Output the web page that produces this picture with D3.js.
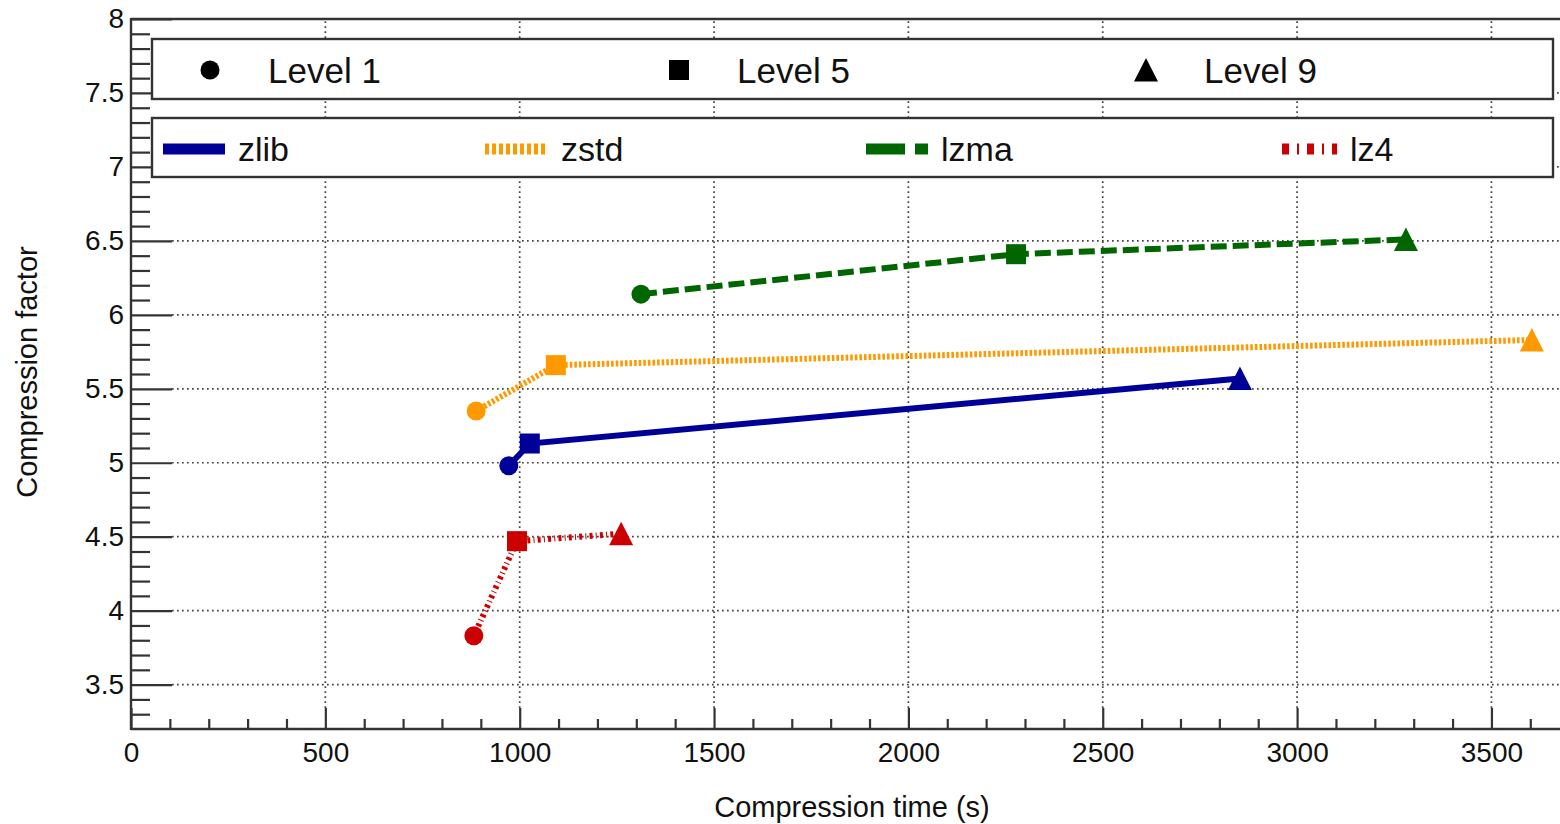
<!DOCTYPE html>
<html>
<head>
<meta charset="utf-8">
<script src="https://cdn.jsdelivr.net/npm/d3@7"></script>
<style>
  body { margin: 0; background: #fff; }
  svg { display: block; font-family: "Liberation Sans", Arial, sans-serif; }
</style>
</head>
<body>
<svg width="1560" height="824"></svg>
<script>
// data
var levels = ["Level 1", "Level 5", "Level 9"];
var algos = ["zlib", "zstd", "lzma", "lz4"];

var zlibTime = [972, 1026, 2853];
var zlibFactor = [4.98, 5.13, 5.57];
var zstdTime = [888, 1093, 3604];
var zstdFactor = [5.35, 5.66, 5.83];
var lzmaTime = [1312, 2277, 3280];
var lzmaFactor = [6.14, 6.41, 6.51];
var lz4Time = [882, 993, 1261];
var lz4Factor = [3.83, 4.47, 4.52];

var xTicks = [0, 500, 1000, 1500, 2000, 2500, 3000, 3500];
var yTicks = [3.5, 4, 4.5, 5, 5.5, 6, 6.5, 7, 7.5, 8];

// styles
var colors = { zlib: "#000099", zstd: "#ff9900", lzma: "#006600", lz4: "#cc0000" };
var dashPlot = { zlib: null, zstd: "2.6,2", lzma: "16,6", lz4: "3,3.2,1,3.2" };
var dashLegend = { zlib: null, zstd: "4,3", lzma: "39,10", lz4: "7,8,2,8" };

var series = [
  { name: "lz4", t: lz4Time, f: lz4Factor },
  { name: "zlib", t: zlibTime, f: zlibFactor },
  { name: "zstd", t: zstdTime, f: zstdFactor },
  { name: "lzma", t: lzmaTime, f: lzmaFactor }
];

var svg = d3.select("svg");

// scales
var x = d3.scaleLinear().domain([0, 3680]).range([131, 1561.4]);
var y = d3.scaleLinear().domain([3.2, 8]).range([729, 19]);

// grid
var grid = svg.append("g")
    .attr("stroke", "#444")
    .attr("stroke-width", 1.7)
    .attr("stroke-dasharray", "1.7,3.3");

grid.selectAll("line.gx")
    .data(xTicks.filter(function(d){ return d > 0; }))
    .enter().append("line")
    .attr("x1", function(d){ return x(d); })
    .attr("x2", function(d){ return x(d); })
    .attr("y1", y(3.2) - 21)
    .attr("y2", y(8));

grid.selectAll("line.gy")
    .data(yTicks.filter(function(d){ return d < 8; }))
    .enter().append("line")
    .attr("x1", x(0) + 41)
    .attr("x2", 1560)
    .attr("y1", function(d){ return y(d); })
    .attr("y2", function(d){ return y(d); });

// axes
var minorY = d3.range(33, 80).map(function(d){ return d / 10; })
    .filter(function(d){ return Math.round(d * 10) % 5 !== 0; });
var minorX = d3.range(100, 3680, 100).filter(function(d){ return d % 500 !== 0; });

svg.append("g")
    .attr("transform", "translate(" + x(0) + ",0)")
    .call(d3.axisLeft(y).tickValues(minorY).tickSize(-19).tickFormat(""))
    .call(function(g){ g.select(".domain").remove(); });

var yAxis = svg.append("g")
    .attr("transform", "translate(" + x(0) + ",0)")
    .call(d3.axisLeft(y).tickValues(yTicks).tickSizeInner(-41).tickSizeOuter(0)
        .tickPadding(7).tickFormat(d3.format("")));
yAxis.select(".domain").remove();
yAxis.selectAll("text").attr("font-size", 28).attr("fill", "#111");

svg.append("g")
    .attr("transform", "translate(0," + y(3.2) + ")")
    .call(d3.axisBottom(x).tickValues(minorX).tickSize(-10).tickFormat(""))
    .call(function(g){ g.select(".domain").remove(); });

var xAxis = svg.append("g")
    .attr("transform", "translate(0," + y(3.2) + ")")
    .call(d3.axisBottom(x).tickValues(xTicks).tickSizeInner(-21).tickSizeOuter(0)
        .tickPadding(13).tickFormat(d3.format("")));
xAxis.select(".domain").remove();
xAxis.selectAll("text").attr("font-size", 28).attr("fill", "#111");

svg.selectAll(".tick line").attr("stroke", "#333").attr("stroke-width", 2.2);

// frame
var frame = svg.append("g").attr("stroke", "#333").attr("stroke-width", 2.4).attr("fill", "none");
frame.append("line").attr("x1", x(0)).attr("x2", x(0)).attr("y1", y(8) - 1).attr("y2", y(3.2) + 1);
frame.append("line").attr("x1", x(0)).attr("x2", 1560).attr("y1", y(3.2)).attr("y2", y(3.2));
frame.append("line").attr("x1", x(0)).attr("x2", 1560).attr("y1", y(8)).attr("y2", y(8));

// axis titles
svg.append("text")
    .attr("x", 852).attr("y", 817)
    .attr("text-anchor", "middle")
    .attr("font-size", 29).attr("fill", "#111")
    .text("Compression time (s)");

svg.append("text")
    .attr("transform", "translate(37,372) rotate(-90)")
    .attr("text-anchor", "middle")
    .attr("font-size", 29).attr("fill", "#111")
    .text("Compression factor");

// markers
function marker(sel, i) {
  if (i === 0) {
    return sel.append("circle").attr("r", 9.5);
  } else if (i === 1) {
    return sel.append("rect").attr("x", -10).attr("y", -10).attr("width", 20).attr("height", 20);
  }
  return sel.append("path").attr("d", "M0,-12L12,11.5L-12,11.5Z");
}

// lines
var line = d3.line()
    .x(function(d){ return x(d[0]); })
    .y(function(d){ return y(d[1]); });

series.forEach(function(s){
  var pts = s.t.map(function(t, i){ return [t, s.f[i]]; });
  svg.append("path")
      .datum(pts)
      .attr("d", line)
      .attr("fill", "none")
      .attr("stroke", colors[s.name])
      .attr("stroke-width", 6)
      .attr("stroke-dasharray", dashPlot[s.name]);
  pts.forEach(function(p, i){
    var g = svg.append("g").attr("transform", "translate(" + x(p[0]) + "," + y(p[1]) + ")");
    marker(g, i).attr("fill", colors[s.name]);
  });
});

// legend boxes
var box = svg.append("g").attr("fill", "#fff").attr("stroke", "#333").attr("stroke-width", 2.4);
box.append("rect").attr("x", 152).attr("y", 39).attr("width", 1401).attr("height", 60);
box.append("rect").attr("x", 152).attr("y", 118).attr("width", 1401).attr("height", 59);

var levelX = [210, 679, 1146];
levels.forEach(function(l, i){
  var g = svg.append("g").attr("transform", "translate(" + levelX[i] + ",70)");
  marker(g, i).attr("fill", "#000");
  svg.append("text")
      .attr("x", levelX[i] + 58).attr("y", 83)
      .attr("font-size", 35).attr("fill", "#111")
      .text(l);
});

var algoX = [163, 485, 866, 1282];
var algoW = [62, 63, 62, 55];
algos.forEach(function(a, i){
  svg.append("line")
      .attr("x1", algoX[i]).attr("x2", algoX[i] + algoW[i])
      .attr("y1", 149).attr("y2", 149)
      .attr("stroke", colors[a])
      .attr("stroke-width", 11)
      .attr("stroke-dasharray", dashLegend[a]);
  svg.append("text")
      .attr("x", algoX[i] + algoW[i] + 13).attr("y", 161)
      .attr("font-size", 34).attr("fill", "#111")
      .text(a);
});
</script>
</body>
</html>
